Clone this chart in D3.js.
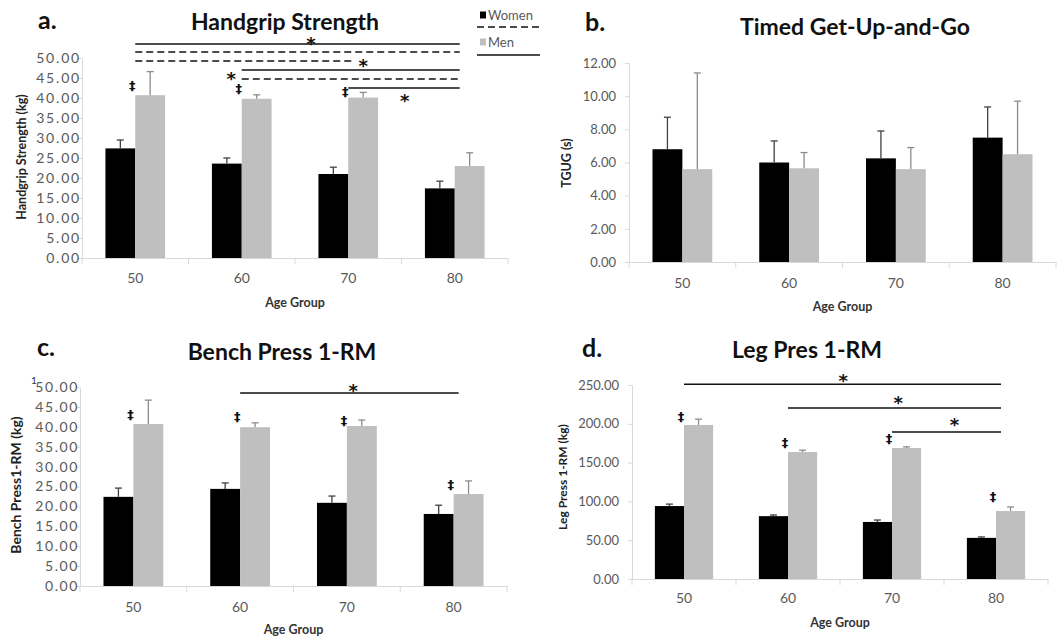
<!DOCTYPE html>
<html>
<head>
<meta charset="utf-8">
<script src="https://cdn.jsdelivr.net/npm/d3@7.9.0/dist/d3.min.js"></script>
<style>
  body { margin: 0; background: #fff; }
  svg { display: block; font-family: Lato, 'Open Sans', sans-serif; }
</style>
</head>
<body>
<svg id="chart" width="1059" height="641"></svg>
<script>
const ageGroups = ['50', '60', '70', '80'];
const series = ['Women', 'Men'];

// a. handgrip strength (kg)
const gripWomen = [27.4, 23.6, 21.0, 17.4];
const gripWomenSD = [2.1, 1.4, 1.7, 1.8];
const gripMen = [40.7, 39.8, 40.1, 23.0];
const gripMenSD = [5.9, 1.0, 1.3, 3.3];
const gripTicks = [0, 5, 10, 15, 20, 25, 30, 35, 40, 45, 50];
const gripDiff = [43.2, 42.5, 41.7, null];
const gripSig = [
  { from: '50', to: '80', level: 53.5, dashed: false, star: [0.55, 54.5] },
  { from: '50', to: '80', level: 51.5, dashed: true },
  { from: '50', to: '70', level: 49.25, dashed: true, star: [1.07, 49] },
  { from: '60', to: '80', level: 47, dashed: false, star: [-0.05, 45.8] },
  { from: '60', to: '80', level: 44.75, dashed: true },
  { from: '70', to: '80', level: 42.5, dashed: false, star: [0.53, 40.25] }
];

// b. timed get-up-and-go (s)
const tugWomen = [6.8, 6.0, 6.25, 7.5];
const tugWomenSD = [1.93, 1.3, 1.65, 1.85];
const tugMen = [5.6, 5.65, 5.6, 6.5];
const tugMenSD = [5.8, 0.95, 1.3, 3.2];
const tugTicks = [0, 2, 4, 6, 8, 10, 12];

// c. bench press 1-RM (kg)
const benchWomen = [22.4, 24.4, 20.9, 18.1];
const benchWomenSD = [2.2, 1.5, 1.7, 2.2];
const benchMen = [40.7, 39.9, 40.2, 23.1];
const benchMenSD = [6.0, 1.1, 1.5, 3.3];
const benchTicks = [0, 5, 10, 15, 20, 25, 30, 35, 40, 45, 50];
const benchDiff = [43.2, 42.7, 41.7, 25.6];
const benchSig = [
  { from: '60', to: '80', level: 48.5, dashed: false, star: [0.53, 50] }
];

// d. leg press 1-RM (kg)
const legWomen = [94, 81, 73.5, 53];
const legWomenSD = [2.5, 1.5, 2.5, 1.2];
const legMen = [198.5, 163.7, 168.8, 87.6];
const legMenSD = [7.5, 2.3, 1.5, 5.2];
const legTicks = [0, 50, 100, 150, 200, 250];
const legDiff = [208.8, 176.5, 181.7, 105.7];
const legSig = [
  { from: '50', to: '80', level: 251, dashed: false, star: [0.51, 260] },
  { from: '60', to: '80', level: 220.4, dashed: false, star: [0.53, 232] },
  { from: '70', to: '80', level: 189.4, dashed: false, star: [0.6, 203] }
];

const svg = d3.select('#chart');
const colors = { Women: '#000000', Men: '#bfbfbf' };
const errColors = { Women: '#404040', Men: '#8c8c8c' };

const panels = [
  { letter: 'a.', title: 'Handgrip Strength', ylabel: 'Handgrip Strength (kg)',
    women: gripWomen, womenSD: gripWomenSD, men: gripMen, menSD: gripMenSD,
    ticks: gripTicks, max: 50, diff: gripDiff, sig: gripSig,
    left: 82, right: 508, top: 58, bottom: 258,
    letterPos: [38, 29], titlePos: [285, 30], ylabelPos: [26, 157], xlabelY: 307,
    tickFont: 14, tickSpacing: 1.8, tickSize: 4, tickPad: -3, xPad: 15, ylabelSize: 12.5 },
  { letter: 'b.', title: 'Timed Get-Up-and-Go', ylabel: 'TGUG (s)',
    women: tugWomen, womenSD: tugWomenSD, men: tugMen, menSD: tugMenSD,
    ticks: tugTicks, max: 12, diff: null, sig: [],
    left: 629, right: 1056, top: 63, bottom: 262,
    letterPos: [585, 31], titlePos: [855, 35], ylabelPos: [571, 163], xlabelY: 311,
    tickFont: 13, tickSpacing: 0, tickSize: 4, tickPad: 9, xPad: 16, ylabelSize: 12.5 },
  { letter: 'c.', title: 'Bench Press 1-RM', ylabel: 'Bench Press1-RM (kg)',
    women: benchWomen, womenSD: benchWomenSD, men: benchMen, menSD: benchMenSD,
    ticks: benchTicks, max: 50, diff: benchDiff, sig: benchSig,
    left: 80, right: 507, top: 387, bottom: 586,
    letterPos: [37, 356], titlePos: [282, 360], ylabelPos: [21, 485], xlabelY: 634,
    tickFont: 14, tickSpacing: 1.6, tickSize: 4, tickPad: -3, xPad: 16, ylabelSize: 14 },
  { letter: 'd.', title: 'Leg Pres 1-RM', ylabel: 'Leg Press 1-RM (kg)',
    women: legWomen, womenSD: legWomenSD, men: legMen, menSD: legMenSD,
    ticks: legTicks, max: 250, diff: legDiff, sig: legSig,
    left: 632, right: 1048, top: 385, bottom: 579,
    letterPos: [582, 357], titlePos: [807, 358], ylabelPos: [567, 477], xlabelY: 627,
    tickFont: 13, tickSpacing: 0, tickSize: 4, tickPad: 9, xPad: 14, ylabelSize: 12 }
];

function drawPanel(p) {
  const g = svg.append('g');
  const x = d3.scaleBand().domain(ageGroups).range([p.left, p.right]);
  const bw = x.bandwidth();
  const xs = d3.scaleBand().domain(series).range([bw * 0.22, bw * 0.78]);
  const y = d3.scaleLinear().domain([0, p.max]).range([p.bottom, p.top]);
  const xc = (a) => x(a) + bw / 2;

  const rows = ageGroups.map((a, i) => ({
    age: a,
    Women: p.women[i], WomenSD: p.womenSD[i],
    Men: p.men[i], MenSD: p.menSD[i]
  }));

  // y axis
  const yAxis = g.append('g')
    .attr('transform', `translate(${p.left},0)`)
    .call(d3.axisLeft(y).tickValues(p.ticks).tickFormat(d3.format('.2f'))
      .tickSize(p.tickSize).tickSizeOuter(0).tickPadding(p.tickPad));
  yAxis.select('.domain').attr('stroke', '#d9d9d9');
  yAxis.selectAll('.tick line').attr('stroke', '#d9d9d9');
  yAxis.selectAll('.tick text')
    .attr('fill', '#595959')
    .style('font-family', 'Lato, sans-serif')
    .style('font-size', p.tickFont + 'px')
    .style('letter-spacing', p.tickSpacing + 'px');

  // x axis: labels at band centres, tick marks at band boundaries
  const xAxis = g.append('g')
    .attr('transform', `translate(0,${p.bottom})`)
    .call(d3.axisBottom(x).tickSize(0).tickPadding(p.xPad));
  xAxis.select('.domain').attr('stroke', '#d9d9d9');
  xAxis.selectAll('.tick text')
    .attr('fill', '#595959')
    .style('font-family', 'Lato, sans-serif')
    .style('font-size', '14px');
  const bounds = ageGroups.map((a) => x(a)).concat([p.right]);
  g.selectAll('.xbound').data(bounds).join('line')
    .attr('x1', (d) => d).attr('x2', (d) => d)
    .attr('y1', p.bottom).attr('y2', p.bottom + 6)
    .attr('stroke', '#d9d9d9');

  // bars
  const groups = g.selectAll('.grp').data(rows).join('g')
    .attr('transform', (d) => `translate(${x(d.age)},0)`);
  groups.selectAll('rect').data((d) => series.map((s) => ({ s, v: d[s] }))).join('rect')
    .attr('x', (d) => xs(d.s))
    .attr('y', (d) => y(d.v))
    .attr('width', xs.bandwidth())
    .attr('height', (d) => y(0) - y(d.v))
    .attr('fill', (d) => colors[d.s]);

  // upper error bars
  const errs = groups.selectAll('.err')
    .data((d) => series.map((s) => ({ s, v: d[s], sd: d[s + 'SD'] })))
    .join('g');
  errs.append('line')
    .attr('x1', (d) => xs(d.s) + xs.bandwidth() / 2)
    .attr('x2', (d) => xs(d.s) + xs.bandwidth() / 2)
    .attr('y1', (d) => y(d.v))
    .attr('y2', (d) => y(d.v + d.sd))
    .attr('stroke', (d) => errColors[d.s]).attr('stroke-width', 1.3);
  errs.append('line')
    .attr('x1', (d) => xs(d.s) + xs.bandwidth() / 2 - 3.5)
    .attr('x2', (d) => xs(d.s) + xs.bandwidth() / 2 + 3.5)
    .attr('y1', (d) => y(d.v + d.sd))
    .attr('y2', (d) => y(d.v + d.sd))
    .attr('stroke', (d) => errColors[d.s]).attr('stroke-width', 1.3);

  // sex-difference markers
  if (p.diff) {
    g.selectAll('.diff').data(rows.filter((d, i) => p.diff[i] != null)).join('text')
      .attr('x', (d) => x(d.age) + xs('Men') - 3)
      .attr('y', (d) => y(p.diff[ageGroups.indexOf(d.age)]) + 4.5)
      .attr('text-anchor', 'middle')
      .style('font-family', "'DejaVu Sans', sans-serif")
      .style('font-weight', 'bold')
      .style('font-size', '13px')
      .attr('fill', '#111')
      .text('\u2021');
  }

  // age-difference brackets
  p.sig.forEach((s) => {
    g.append('line')
      .attr('x1', xc(s.from)).attr('x2', xc(s.to) + 5)
      .attr('y1', y(s.level)).attr('y2', y(s.level))
      .attr('stroke', '#111').attr('stroke-width', 1.6)
      .attr('stroke-dasharray', s.dashed ? '7,4' : null);
    if (s.star) {
      const sx = xc(s.from) + s.star[0] * (xc(s.to) - xc(s.from));
      g.append('text')
        .attr('x', sx).attr('y', y(s.star[1]) + 10)
        .attr('text-anchor', 'middle')
        .style('font-family', "'DejaVu Sans', sans-serif")
        .style('font-weight', 'bold')
        .style('font-size', '18px')
        .attr('fill', '#111')
        .text('*');
    }
  });

  // texts
  g.append('text')
    .attr('x', p.letterPos[0]).attr('y', p.letterPos[1])
    .style('font-weight', 'bold').style('font-size', '25px').attr('fill', '#111')
    .text(p.letter);
  g.append('text')
    .attr('x', p.titlePos[0]).attr('y', p.titlePos[1])
    .attr('text-anchor', 'middle')
    .style('font-weight', 'bold').style('font-size', '23px').attr('fill', '#111')
    .text(p.title);
  g.append('text')
    .attr('transform', `translate(${p.ylabelPos[0]},${p.ylabelPos[1]}) rotate(-90)`)
    .attr('text-anchor', 'middle')
    .style('font-weight', 'bold').style('font-size', p.ylabelSize + 'px').attr('fill', '#222')
    .text(p.ylabel);
  g.append('text')
    .attr('x', (p.left + p.right) / 2).attr('y', p.xlabelY)
    .attr('text-anchor', 'middle')
    .style('font-weight', 'bold').style('font-size', '12.5px').attr('fill', '#333')
    .text('Age Group');
}

panels.forEach(drawPanel);

// stray "1" beside the bench press axis, as in the original figure
svg.append('text').attr('x', 31).attr('y', 384)
  .style('font-size', '10px').attr('fill', '#333').text('1');

// legend (top of panel a)
const legend = svg.append('g');
const legendRows = [
  { s: 'Women', y: 15, lineY: 27, dashed: true },
  { s: 'Men', y: 42, lineY: 55, dashed: false }
];
legend.selectAll('rect').data(legendRows).join('rect')
  .attr('x', 480).attr('y', (d) => d.y - 3.5)
  .attr('width', 6).attr('height', 7)
  .attr('fill', (d) => colors[d.s]);
legend.selectAll('text').data(legendRows).join('text')
  .attr('x', 488).attr('y', (d) => d.y + 5)
  .style('font-size', '13px').attr('fill', '#595959')
  .text((d) => d.s);
legend.selectAll('line').data(legendRows).join('line')
  .attr('x1', 477).attr('x2', 540)
  .attr('y1', (d) => d.lineY).attr('y2', (d) => d.lineY)
  .attr('stroke', '#111').attr('stroke-width', 1.6)
  .attr('stroke-dasharray', (d) => d.dashed ? '7,4' : null);
</script>
</body>
</html>
